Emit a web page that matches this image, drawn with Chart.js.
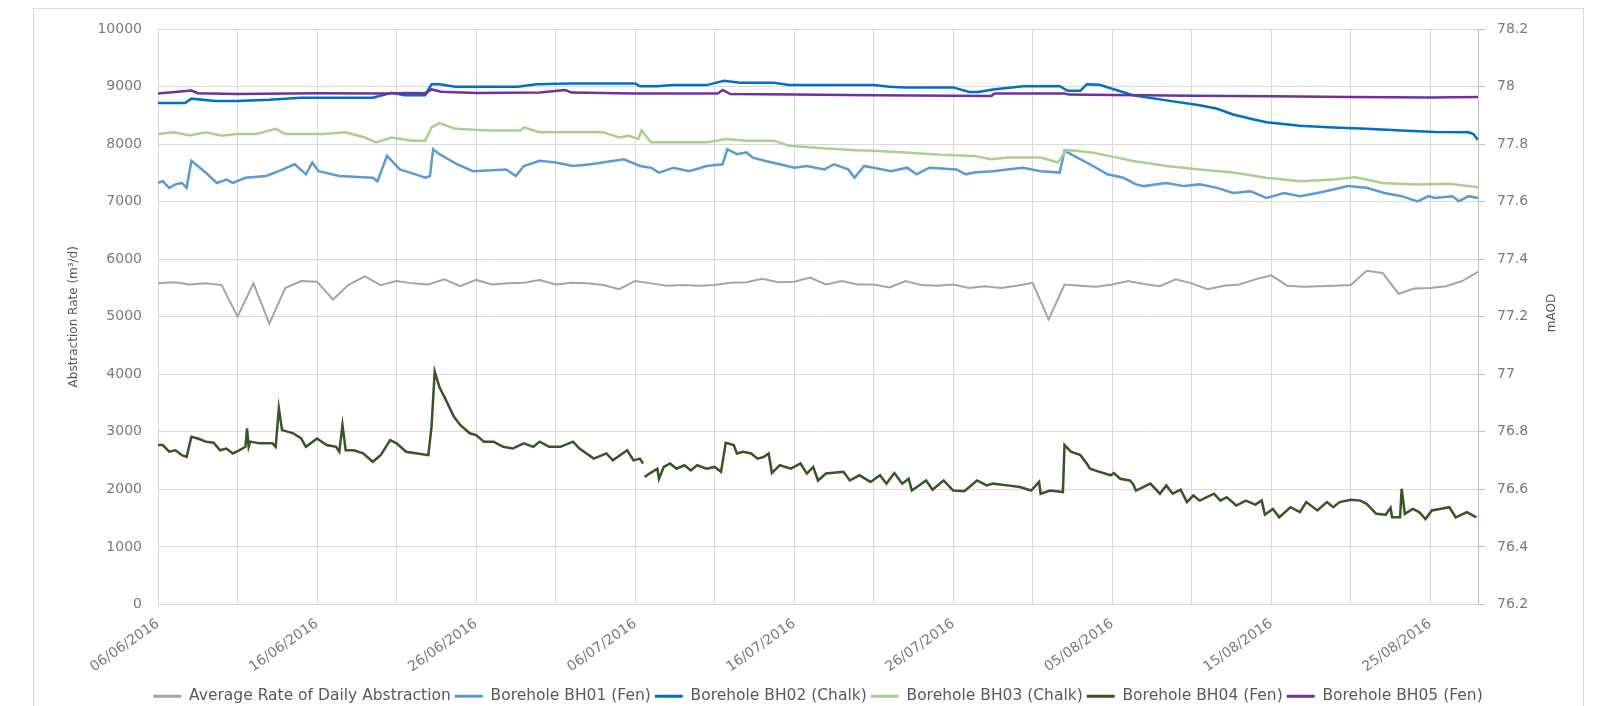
<!DOCTYPE html>
<html>
<head>
<meta charset="utf-8">
<script src="https://cdn.jsdelivr.net/npm/chart.js@4.4.0/dist/chart.umd.min.js"></script>
<style>
  html, body { margin: 0; background: #fff; overflow: hidden; }
  #frame { position: absolute; left: 33px; top: 8px; width: 1549px; height: 720px; border: 1px solid #d9d9d9; }
  #wrap { position: absolute; left: 0; top: 0; width: 1610px; height: 706px; }
</style>
</head>
<body>
<div id="frame"></div>
<div id="wrap"><canvas id="chart"></canvas></div>
<script>
// x values are days since 06/06/2016
const dateLabels = ['06/06/2016', '16/06/2016', '26/06/2016', '06/07/2016', '16/07/2016',
  '26/07/2016', '05/08/2016', '15/08/2016', '25/08/2016'];

const seriesNames = ['Average Rate of Daily Abstraction', 'Borehole BH01 (Fen)', 'Borehole BH02 (Chalk)',
  'Borehole BH03 (Chalk)', 'Borehole BH04 (Fen)', 'Borehole BH05 (Fen)'];

// Average rate of daily abstraction (m3/d), one value per day from day 0
const avgRate = [5580, 5600, 5560, 5580, 5550, 5000, 5580, 4880, 5500, 5620,
  5610, 5300, 5560, 5700, 5550, 5620, 5580, 5560, 5650, 5530,
  5640, 5560, 5580, 5590, 5640, 5560, 5590, 5580, 5550, 5480,
  5620, 5580, 5540, 5550, 5540, 5550, 5590, 5600, 5660, 5600,
  5610, 5680, 5560, 5620, 5560, 5560, 5510, 5620, 5550, 5540,
  5560, 5500, 5530, 5500, 5540, 5590, 4950, 5560, 5540, 5520,
  5560, 5620, 5570, 5530, 5650, 5580, 5480, 5540, 5560, 5650,
  5720, 5540, 5520, 5530, 5540, 5550, 5800, 5760, 5400, 5490,
  5500, 5530, 5620, 5780];

// borehole levels (mAOD)
const bh01Days = [0, 0.3, 0.7, 1.1, 1.5, 1.8, 2.1, 2.5, 3, 3.7, 4.3, 4.7, 5.5, 6.8, 7.6, 8.6, 9.3, 9.7, 10.1, 11.4,
  13.5, 13.8, 14.4, 15.2, 16.2, 16.8, 17.1, 17.3, 17.7, 18.8, 19.8, 21.9, 22.5, 23, 24, 25, 26.1, 27.2, 29.3, 30.3,
  31, 31.5, 32.4, 33.4, 34.5, 35.5, 35.8, 36.4, 37, 37.4, 38.2, 39.1, 40, 40.8, 41.9, 42.5, 43.4, 43.8, 44.4, 45,
  46.1, 47.1, 47.7, 48.5, 50.2, 50.8, 51.3, 52.5, 53.4, 54.4, 55.5, 56.7, 57, 57.6, 58.6, 59.7, 60.7, 61.5, 62, 63.4,
  64.5, 65.5, 66.6, 67.6, 68.7, 69.7, 70.8, 71.8, 72.9, 73.9, 74.8, 75.6, 76, 77.1, 78.2, 79.2, 79.9, 80.3, 81.4, 81.8,
  82.4, 83];
const bh01Level = [77.665, 77.671, 77.648, 77.660, 77.665, 77.648, 77.742, 77.724, 77.701, 77.665, 77.677, 77.665, 77.683, 77.689, 77.706, 77.730, 77.695, 77.736, 77.706, 77.689,
  77.683, 77.671, 77.759, 77.712, 77.695, 77.683, 77.689, 77.782, 77.765, 77.730, 77.706, 77.712, 77.689, 77.724, 77.742, 77.736, 77.724, 77.730, 77.747, 77.724,
  77.718, 77.701, 77.718, 77.706, 77.724, 77.730, 77.782, 77.765, 77.771, 77.753, 77.741, 77.730, 77.718, 77.724, 77.712, 77.730, 77.712, 77.683, 77.724, 77.718,
  77.706, 77.718, 77.695, 77.718, 77.712, 77.695, 77.701, 77.706, 77.712, 77.718, 77.706, 77.701, 77.777, 77.759, 77.730, 77.695, 77.683, 77.660, 77.654, 77.665,
  77.654, 77.660, 77.648, 77.630, 77.636, 77.613, 77.630, 77.619, 77.630, 77.642, 77.654, 77.650, 77.648, 77.630, 77.619, 77.601, 77.619, 77.613, 77.619, 77.601,
  77.619, 77.613];

const bh02Days = [0, 1.7, 2.1, 3.6, 5, 7, 9, 13.5, 14.7, 15.5, 16.8, 17.2, 17.7, 18.7, 22.6, 23.8, 26, 30, 30.3, 31.4,
  32.4, 34.5, 35.6, 36.6, 38.7, 39.7, 45, 46, 47, 50, 51, 51.6, 52.5, 54.4, 56.7, 57.2, 58, 58.4, 59.2, 60.3,
  61.3, 63.4, 65.5, 66.6, 67.6, 68.7, 69.7, 71.8, 73.9, 76, 78.2, 80.3, 82.4, 82.7, 83];
const bh02Level = [77.943, 77.943, 77.958, 77.950, 77.950, 77.954, 77.961, 77.961, 77.978, 77.970, 77.970, 78.008, 78.008, 77.999, 77.999, 78.008, 78.011, 78.011, 78.001, 78.001,
  78.005, 78.005, 78.020, 78.013, 78.013, 78.005, 78.005, 77.999, 77.997, 77.997, 77.981, 77.981, 77.990, 78.001, 78.001, 77.985, 77.985, 78.008, 78.006, 77.987,
  77.970, 77.952, 77.935, 77.923, 77.903, 77.888, 77.876, 77.864, 77.858, 77.853, 77.847, 77.842, 77.841, 77.835, 77.815];

const bh03Days = [0, 1, 2, 3, 4, 5, 6.2, 7.4, 8, 10.4, 11.8, 13, 13.7, 14.7, 16, 16.8, 17.2, 17.7, 18.7, 20.9,
  22.8, 23, 24, 28, 29, 29.6, 30.2, 30.4, 31, 34.5, 35.7, 37, 38.7, 39.7, 41.8, 43.9, 45, 47, 49.2, 51.3,
  52.4, 53.4, 55.5, 56.6, 57.1, 57.7, 58.7, 59.8, 61.3, 63.4, 65.5, 67.6, 69.7, 71.8, 73.9, 75.3, 77, 79.1, 81.2, 83];
const bh03Level = [77.835, 77.841, 77.830, 77.841, 77.829, 77.835, 77.835, 77.853, 77.835, 77.835, 77.841, 77.823, 77.806, 77.823, 77.812, 77.812, 77.858, 77.873, 77.853, 77.847,
  77.847, 77.858, 77.841, 77.841, 77.823, 77.829, 77.818, 77.847, 77.806, 77.806, 77.818, 77.812, 77.812, 77.794, 77.786, 77.779, 77.777, 77.771, 77.763, 77.759,
  77.747, 77.753, 77.753, 77.736, 77.779, 77.777, 77.771, 77.759, 77.741, 77.724, 77.712, 77.701, 77.683, 77.671, 77.677, 77.685, 77.665, 77.660, 77.662, 77.650];

// null marks the break in the BH04 record
const bh04Days = [0, 0.3, 0.7, 1.1, 1.5, 1.8, 2.1, 2.5, 3, 3.5, 3.9, 4.3, 4.7, 5.1, 5.5, 5.6, 5.7, 5.8, 6.4, 7.2,
  7.4, 7.6, 7.8, 8.2, 8.5, 9, 9.3, 10, 10.6, 11.2, 11.4, 11.6, 11.8, 12.3, 12.9, 13.5, 14, 14.6, 15, 15.6,
  16.3, 17, 17.2, 17.4, 17.7, 18.1, 18.6, 19, 19.6, 20, 20.5, 21.1, 21.7, 22.3, 23, 23.6, 24, 24.6, 25.3, 26.1,
  26.5, 27.4, 28.2, 28.6, 29.5, 29.9, 30.3, 30.5, 30.55, 30.6, 30.9, 31.4, 31.5, 31.8, 32.2, 32.6, 33.1, 33.5, 33.9, 34.5,
  35, 35.4, 35.7, 36.2, 36.4, 36.8, 37.3, 37.7, 38.1, 38.4, 38.6, 39.1, 39.8, 40.4, 40.8, 41.2, 41.5, 42, 43.1, 43.5,
  44.1, 44.8, 45.4, 45.8, 46.3, 46.8, 47.2, 47.4, 48.3, 48.7, 49.4, 50, 50.7, 51.5, 52.1, 52.5, 53.4, 54.2, 54.9, 55.4,
  55.5, 56.1, 56.9, 57, 57.4, 58, 58.4, 58.6, 59.2, 59.9, 60.1, 60.5, 61.1, 61.3, 61.5, 62.4, 63, 63.4, 63.8, 64.3,
  64.7, 65.1, 65.5, 66.4, 66.8, 67.2, 67.8, 68.4, 69, 69.4, 69.6, 70.1, 70.5, 71.2, 71.8, 72.2, 72.9, 73.5, 73.9, 74.3,
  75, 75.6, 76, 76.6, 77.2, 77.5, 77.6, 78.1, 78.2, 78.4, 78.9, 79.3, 79.7, 80.1, 80.6, 81.2, 81.6, 82.3, 82.9];
const bh04Level = [76.754, 76.754, 76.731, 76.736, 76.719, 76.713, 76.783, 76.777, 76.766, 76.762, 76.736, 76.742, 76.725, 76.736, 76.748, 76.812, 76.748, 76.766, 76.760, 76.760,
  76.748, 76.882, 76.806, 76.800, 76.795, 76.777, 76.748, 76.777, 76.754, 76.748, 76.731, 76.824, 76.736, 76.736, 76.725, 76.696, 76.719, 76.771, 76.760, 76.731,
  76.725, 76.719, 76.818, 77.010, 76.955, 76.911, 76.853, 76.824, 76.795, 76.789, 76.766, 76.766, 76.748, 76.742, 76.760, 76.748, 76.766, 76.748, 76.748, 76.766,
  76.742, 76.707, 76.725, 76.701, 76.736, 76.701, 76.707, 76.690, null, 76.643, 76.655, 76.672, 76.637, 76.678, 76.690, 76.672, 76.684, 76.666, 76.684, 76.672,
  76.678, 76.661, 76.762, 76.754, 76.725, 76.731, 76.725, 76.707, 76.713, 76.725, 76.657, 76.684, 76.672, 76.690, 76.655, 76.678, 76.631, 76.655, 76.661, 76.631,
  76.649, 76.626, 76.649, 76.620, 76.657, 76.620, 76.637, 76.596, 76.631, 76.599, 76.631, 76.596, 76.594, 76.631, 76.614, 76.620, 76.614, 76.608, 76.596, 76.626,
  76.585, 76.596, 76.591, 76.754, 76.731, 76.719, 76.690, 76.672, 76.661, 76.649, 76.657, 76.637, 76.631, 76.620, 76.596, 76.620, 76.585, 76.614, 76.585, 76.599,
  76.556, 76.579, 76.561, 76.585, 76.561, 76.573, 76.544, 76.561, 76.547, 76.561, 76.512, 76.532, 76.503, 76.538, 76.521, 76.556, 76.527, 76.556, 76.538, 76.556,
  76.564, 76.561, 76.550, 76.515, 76.512, 76.536, 76.503, 76.503, 76.602, 76.515, 76.532, 76.521, 76.497, 76.527, 76.532, 76.538, 76.503, 76.521, 76.503];

const bh05Days = [0, 2.1, 2.5, 5, 10, 14.5, 15.5, 16.8, 17.2, 17.8, 20, 24, 25.6, 26, 30, 35.2, 35.5, 36, 40, 45,
  50, 52.4, 52.6, 57, 57.3, 60, 62, 65, 70, 75, 80, 83];
const bh05Level = [77.976, 77.986, 77.977, 77.974, 77.977, 77.976, 77.978, 77.977, 77.990, 77.982, 77.978, 77.979, 77.988, 77.979, 77.976, 77.976, 77.988, 77.974, 77.972, 77.970,
  77.968, 77.967, 77.976, 77.976, 77.972, 77.971, 77.970, 77.968, 77.966, 77.964, 77.962, 77.964];

const colors = ['#a5a5a5', '#5b9bd5', '#0070c0', '#a9d18e', '#375623', '#7030a0'];

function pts(days, vals) {
  return days.map((d, i) => ({ x: d, y: vals[i] }));
}

const seriesData = [
  avgRate.map((v, i) => ({ x: i, y: v })),
  pts(bh01Days, bh01Level),
  pts(bh02Days, bh02Level),
  pts(bh03Days, bh03Level),
  pts(bh04Days, bh04Level),
  pts(bh05Days, bh05Level)
];

Chart.defaults.font.family = 'DejaVu Sans';

const datasets = seriesNames.map((name, i) => ({
  label: name,
  data: seriesData[i],
  borderColor: colors[i],
  backgroundColor: colors[i],
  borderWidth: i === 0 ? 2 : 2.5,
  pointRadius: 0,
  tension: 0,
  spanGaps: false,
  yAxisID: i === 0 ? 'y' : 'y1',
  order: 6 - i
}));

// Excel style vertical title on the right, reading upwards
const rightTitle = {
  id: 'rightTitle',
  afterDraw(chart) {
    const ctx = chart.ctx;
    ctx.save();
    ctx.translate(1552, 313);
    ctx.rotate(-Math.PI / 2);
    ctx.font = '12px "DejaVu Sans"';
    ctx.fillStyle = '#595959';
    ctx.textAlign = 'center';
    ctx.textBaseline = 'middle';
    ctx.fillText('mAOD', 0, 0);
    ctx.restore();
  }
};

// centre the legend under the plot area rather than the whole canvas
const legendCentre = {
  id: 'legendCentre',
  beforeDraw(chart) {
    const lg = chart.legend;
    const a = chart.chartArea;
    const dx = (a.left + a.right) / 2 - (lg.left + lg.right) / 2;
    lg.left += dx;
    lg.right += dx;
  }
};

new Chart(document.getElementById('chart'), {
  type: 'line',
  data: { datasets },
  plugins: [rightTitle, legendCentre],
  options: {
    responsive: true,
    maintainAspectRatio: false,
    animation: false,
    devicePixelRatio: 1,
    layout: { padding: { left: 63, right: 72, top: 29, bottom: -8 } },
    plugins: {
      tooltip: { enabled: false },
      legend: {
        position: 'bottom',
        labels: {
          font: { size: 15.5 },
          color: '#595959',
          boxWidth: 28,
          boxHeight: 3,
          padding: 4,
          sort: (a, b) => a.datasetIndex - b.datasetIndex,
          generateLabels(chart) {
            return Chart.defaults.plugins.legend.labels.generateLabels(chart)
              .map(l => Object.assign(l, { lineWidth: 0 }));
          }
        }
      }
    },
    scales: {
      x: {
        type: 'linear',
        min: 0,
        max: 83,
        grid: { color: '#d9d9d9', drawTicks: false },
        border: { color: '#d9d9d9' },
        afterFit(scale) { scale.height = 80; },
        ticks: {
          stepSize: 5,
          autoSkip: false,
          minRotation: 35,
          maxRotation: 35,
          padding: 11,
          color: '#7a7a7a',
          font: { size: 14 },
          callback: (v) => (v % 10 === 0 ? dateLabels[v / 10] : '')
        }
      },
      y: {
        position: 'left',
        min: 0,
        max: 10000,
        grid: { color: '#d9d9d9', drawTicks: false },
        border: { color: '#d9d9d9' },
        afterFit(scale) { scale.width = 95; },
        ticks: {
          stepSize: 1000,
          padding: 16,
          color: '#7a7a7a',
          font: { size: 14 },
          callback: (v) => String(v)
        },
        title: {
          display: true,
          text: 'Abstraction Rate (m³/d)',
          color: '#595959',
          font: { size: 12 }
        }
      },
      y1: {
        position: 'right',
        min: 76.2,
        max: 78.2,
        grid: { drawOnChartArea: false, color: '#bfbfbf', tickLength: 7 },
        border: { color: '#bfbfbf' },
        afterFit(scale) { scale.width = 60; },
        ticks: {
          stepSize: 0.2,
          padding: 12,
          color: '#7a7a7a',
          font: { size: 14 },
          callback: (v) => String(parseFloat(v.toFixed(1)))
        }
      }
    }
  }
});
</script>
</body>
</html>
